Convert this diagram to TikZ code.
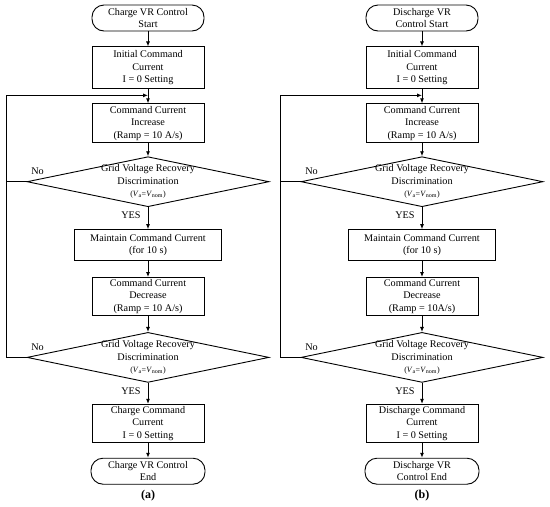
\documentclass[tikz,border=0pt]{standalone}
\usepackage{fontspec}
\setmainfont{Liberation Serif}
\usetikzlibrary{arrows.meta,positioning,shapes.geometric}

\newcommand{\vcond}{{\fontsize{8}{9}\selectfont(\textit{V}\textsubscript{a}=\textit{V}\textsubscript{nom})}}

\begin{document}
\begin{tikzpicture}[
    x=1pt, y=-1pt,
    node distance=15pt,
    font=\fontsize{10.2}{12.5}\selectfont,
    box/.style={draw, line width=0.9pt, align=center, inner sep=1pt, minimum width=112pt, minimum height=39pt},
    term/.style={draw, line width=0.9pt, rounded corners=12pt, align=center, inner sep=1pt, minimum width=112pt, minimum height=26pt},
    decision/.style={draw, line width=0.9pt, diamond, inner sep=0pt, minimum width=242pt, minimum height=50pt},
    dtext/.style={align=center, inner sep=0pt},
    arrow/.style={-{Latex[length=5pt,width=4pt]}, line width=0.9pt},
    link/.style={line width=0.9pt},
    lbl/.style={inner sep=0pt}
  ]
    \useasboundingbox (0,0) rectangle (550,507);

    % (a) charge
    \node[term] (a-start) at (148,18) {Charge VR Control\\Start};
    \node[box, minimum height=42pt, below=15pt of a-start] (a-init) {Initial Command\\Current\\I = 0 Setting};
    \node[box, below=14pt of a-init] (a-inc) {Command Current\\Increase\\(Ramp = 10 A/s)};
    \node[decision, below=13pt of a-inc] (a-dia1) {};
    \node[dtext] (a-dia1-t) at (a-dia1) {Grid Voltage Recovery\\Discrimination\\\vcond};
    \node[box, minimum width=147pt, minimum height=31pt, below=22pt of a-dia1] (a-hold) {Maintain Command Current\\(for 10 s)};
    \node[box, minimum height=38pt, below=16pt of a-hold] (a-dec) {Command Current\\Decrease\\(Ramp = 10 A/s)};
    \node[decision, below=16pt of a-dec] (a-dia2) {};
    \node[dtext] (a-dia2-t) at (a-dia2) {Grid Voltage Recovery\\Discrimination\\\vcond};
    \node[box, minimum height=38pt, below=21pt of a-dia2] (a-stop) {Charge Command\\Current\\I = 0 Setting};
    \node[term, minimum width=114pt, below=15pt of a-stop] (a-end) {Charge VR Control\\End};
    \node[lbl] (a-no1) at ([xshift=11pt,yshift=10pt]a-dia1.west) {No};
    \node[lbl] (a-yes1) at ([xshift=-17pt,yshift=-8pt]a-dia1.south) {YES};
    \node[lbl] (a-no2) at ([xshift=11pt,yshift=10pt]a-dia2.west) {No};
    \node[lbl] (a-yes2) at ([xshift=-17pt,yshift=-8pt]a-dia2.south) {YES};
    \node (a-cap) at (148,496) {\fontsize{12}{14}\selectfont\textbf{(a)}};

    \coordinate (a-join) at ([yshift=8pt]a-inc.north);
    \coordinate (a-loop) at ([xshift=-20pt]a-dia2.west);
    \draw[arrow] (a-start) -- (a-init);
    \draw[arrow] (a-init) -- (a-inc);
    \draw[arrow] (a-inc) -- (a-dia1);
    \draw[arrow] (a-dia1) -- (a-hold);
    \draw[arrow] (a-hold) -- (a-dec);
    \draw[arrow] (a-dec) -- (a-dia2);
    \draw[arrow] (a-dia2) -- (a-stop);
    \draw[arrow] (a-stop) -- (a-end);
    \draw[arrow] (a-dia2.west) -- (a-loop) |- (a-join);
    \draw[link] (a-dia1.west) -- (a-dia1.west -| a-loop);

    % (b) discharge
    \node[term] (b-start) at (422,18) {Discharge VR\\Control Start};
    \node[box, minimum height=42pt, below=15pt of b-start] (b-init) {Initial Command\\Current\\I = 0 Setting};
    \node[box, below=14pt of b-init] (b-inc) {Command Current\\Increase\\(Ramp = 10 A/s)};
    \node[decision, below=13pt of b-inc] (b-dia1) {};
    \node[dtext] (b-dia1-t) at (b-dia1) {Grid Voltage Recovery\\Discrimination\\\vcond};
    \node[box, minimum width=147pt, minimum height=31pt, below=22pt of b-dia1] (b-hold) {Maintain Command Current\\(for 10 s)};
    \node[box, minimum height=38pt, below=16pt of b-hold] (b-dec) {Command Current\\Decrease\\(Ramp = 10A/s)};
    \node[decision, below=16pt of b-dec] (b-dia2) {};
    \node[dtext] (b-dia2-t) at (b-dia2) {Grid Voltage Recovery\\Discrimination\\\vcond};
    \node[box, minimum height=38pt, below=21pt of b-dia2] (b-stop) {Discharge Command\\Current\\I = 0 Setting};
    \node[term, minimum width=114pt, below=15pt of b-stop] (b-end) {Discharge VR\\Control End};
    \node[lbl] (b-no1) at ([xshift=11pt,yshift=10pt]b-dia1.west) {No};
    \node[lbl] (b-yes1) at ([xshift=-17pt,yshift=-8pt]b-dia1.south) {YES};
    \node[lbl] (b-no2) at ([xshift=11pt,yshift=10pt]b-dia2.west) {No};
    \node[lbl] (b-yes2) at ([xshift=-17pt,yshift=-8pt]b-dia2.south) {YES};
    \node (b-cap) at (422,496) {\fontsize{12}{14}\selectfont\textbf{(b)}};

    \coordinate (b-join) at ([yshift=8pt]b-inc.north);
    \coordinate (b-loop) at ([xshift=-20pt]b-dia2.west);
    \draw[arrow] (b-start) -- (b-init);
    \draw[arrow] (b-init) -- (b-inc);
    \draw[arrow] (b-inc) -- (b-dia1);
    \draw[arrow] (b-dia1) -- (b-hold);
    \draw[arrow] (b-hold) -- (b-dec);
    \draw[arrow] (b-dec) -- (b-dia2);
    \draw[arrow] (b-dia2) -- (b-stop);
    \draw[arrow] (b-stop) -- (b-end);
    \draw[arrow] (b-dia2.west) -- (b-loop) |- (b-join);
    \draw[link] (b-dia1.west) -- (b-dia1.west -| b-loop);
  \end{tikzpicture}
\end{document}
